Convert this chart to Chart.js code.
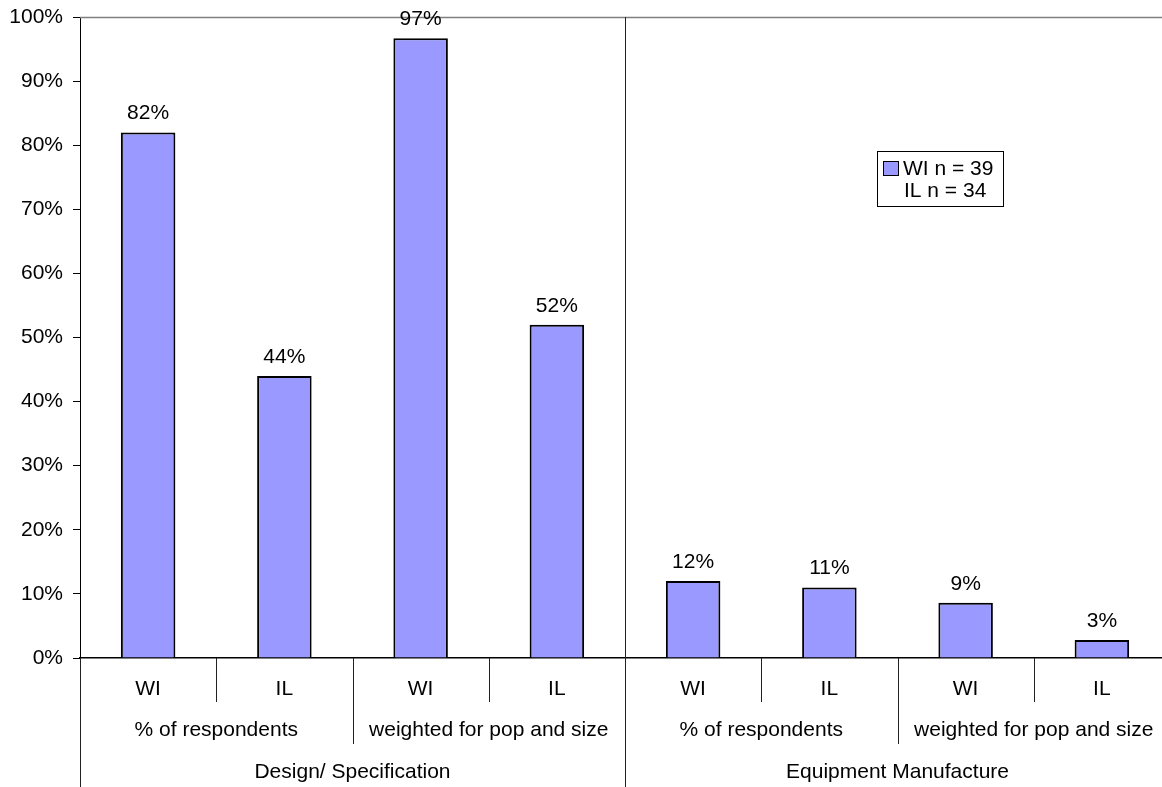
<!DOCTYPE html>
<html>
<head>
<meta charset="utf-8">
<title>Design/ Specification vs Equipment Manufacture</title>
<script src="https://cdn.jsdelivr.net/npm/chart.js@4.4.1/dist/chart.umd.min.js"></script>
<style>
  html, body { margin: 0; padding: 0; background: #fff; overflow: hidden; }
  #wrap { width: 1170px; height: 787px; }
</style>
</head>
<body>
<div id="wrap"><canvas id="chart" width="1170" height="787"></canvas></div>
<script>
// State shown under each bar
const categories = ['WI', 'IL', 'WI', 'IL', 'WI', 'IL', 'WI', 'IL'];
// Second axis level: how the share is measured (each covers two bars)
const measures = ['% of respondents', 'weighted for pop and size', '% of respondents', 'weighted for pop and size'];
// Third axis level: activity (each covers four bars)
const activities = ['Design/ Specification', 'Equipment Manufacture'];
// Share in percent
const shares = [82, 44, 96.7, 52, 12, 11, 8.6, 2.8];
// Legend text
const legendLines = ['WI n = 39', 'IL n = 34'];

const FONT = '21px "Liberation Sans", Arial, Helvetica, sans-serif';
const BAR_FILL = '#9999FF';

const perMeasure = categories.length / measures.length;
const perActivity = categories.length / activities.length;

const multiLevelAxis = {
  id: 'multiLevelAxis',
  beforeDatasetsDraw(chart) {
    const { ctx, chartArea } = chart;
    ctx.save();
    ctx.strokeStyle = '#808080';
    ctx.lineWidth = 1.5;
    ctx.beginPath();
    ctx.moveTo(chartArea.left, chartArea.top + 0.5);
    ctx.lineTo(chartArea.right, chartArea.top + 0.5);
    ctx.stroke();
    ctx.restore();
  },
  afterDraw(chart) {
    const { ctx, chartArea, scales } = chart;
    const x = scales.x;
    const bottom = chart.height;
    const step = x.getPixelForValue(1) - x.getPixelForValue(0);
    const edge = i => x.getPixelForValue(i) - step / 2;
    const y0 = chartArea.bottom;

    ctx.save();
    ctx.lineWidth = 1;
    ctx.strokeStyle = '#222';
    const vline = (px, top, bot) => {
      const xx = Math.round(px) + 0.5;
      ctx.beginPath();
      ctx.moveTo(xx, top);
      ctx.lineTo(xx, bot);
      ctx.stroke();
    };

    for (let i = 0; i < categories.length; i++) {
      if (i % perActivity === 0) {
        vline(edge(i), i === 0 ? y0 : chartArea.top, bottom);
      } else if (i % perMeasure === 0) {
        vline(edge(i), y0, y0 + 86);
      } else {
        vline(edge(i), y0, y0 + 44);
      }
    }

    ctx.fillStyle = '#000';
    ctx.font = FONT;
    ctx.textAlign = 'center';
    ctx.textBaseline = 'middle';
    categories.forEach((c, i) => {
      ctx.fillText(c, x.getPixelForValue(i), y0 + 31);
    });
    measures.forEach((m, j) => {
      const a = edge(j * perMeasure), b = edge((j + 1) * perMeasure);
      ctx.fillText(m, (a + b) / 2, y0 + 72);
    });
    activities.forEach((t, k) => {
      const a = edge(k * perActivity), b = edge((k + 1) * perActivity);
      ctx.fillText(t, (a + b) / 2, y0 + 114);
    });

    // value labels above bars
    ctx.textBaseline = 'alphabetic';
    const meta = chart.getDatasetMeta(0);
    meta.data.forEach((bar, i) => {
      ctx.fillText(Math.round(shares[i]) + '%', bar.x, bar.y - 13);
    });

    // legend box
    const lx = 877, ly = 151, lw = 126, lh = 55;
    ctx.fillStyle = '#fff';
    ctx.fillRect(lx, ly, lw, lh);
    ctx.strokeStyle = '#000';
    ctx.strokeRect(lx + 0.5, ly + 0.5, lw, lh);
    ctx.fillStyle = BAR_FILL;
    ctx.fillRect(lx + 6.5, ly + 10.5, 15, 14);
    ctx.strokeRect(lx + 6.5, ly + 10.5, 15, 14);
    ctx.fillStyle = '#000';
    ctx.textAlign = 'left';
    ctx.textBaseline = 'middle';
    ctx.fillText(legendLines[0], lx + 26, ly + 18);
    ctx.fillText(legendLines[1], lx + 27, ly + 40);
    ctx.restore();
  }
};

new Chart(document.getElementById('chart'), {
  type: 'bar',
  data: {
    labels: categories,
    datasets: [{
      label: legendLines.join(' / '),
      data: shares,
      backgroundColor: BAR_FILL,
      borderColor: '#000',
      borderWidth: 2,
      categoryPercentage: 1,
      barPercentage: 0.4
    }]
  },
  options: {
    responsive: false,
    animation: false,
    devicePixelRatio: 1,
    layout: { padding: { top: 17, left: 0, right: 0, bottom: 0 } },
    plugins: {
      legend: { display: false },
      tooltip: { enabled: false },
      title: { display: false }
    },
    scales: {
      x: {
        type: 'category',
        offset: true,
        grid: { display: false },
        border: { display: true, color: '#000', width: 1.5 },
        ticks: { display: false },
        afterFit(scale) { scale.height = 129; scale.paddingLeft = 0; scale.paddingRight = 0; }
      },
      y: {
        min: 0,
        max: 100,
        ticks: {
          stepSize: 10,
          color: '#000',
          font: { family: '"Liberation Sans", Arial, Helvetica, sans-serif', size: 21 },
          padding: 10,
          callback: v => v + '%'
        },
        grid: { drawOnChartArea: false, drawTicks: true, tickLength: 7, color: '#000' },
        border: { display: true, color: '#000', width: 1 },
        afterFit(scale) { scale.width = 80; scale.paddingTop = 0; scale.paddingBottom = 0; }
      }
    }
  },
  plugins: [multiLevelAxis]
});
</script>
</body>
</html>
